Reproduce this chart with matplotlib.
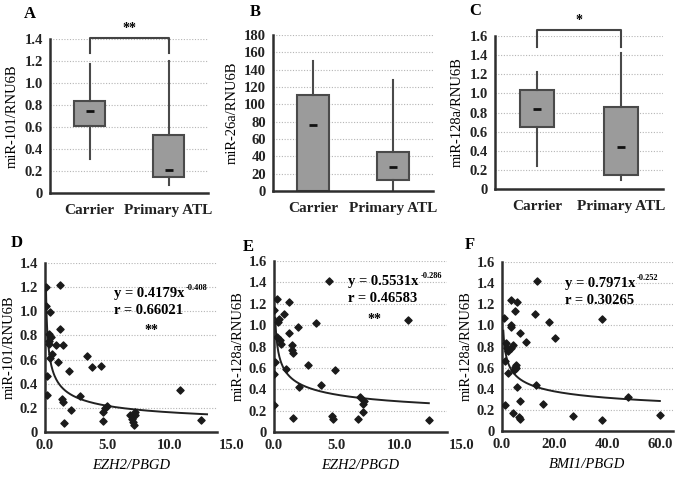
import matplotlib
matplotlib.use("Agg")
import matplotlib.pyplot as plt
import numpy as np

plt.rcParams['font.family'] = ['Liberation Serif', 'DejaVu Serif']
plt.rcParams['font.weight'] = 'bold'

# ---------------- Box plot data (A, B, C) ----------------
groups = ["Carrier", "Primary ATL"]

a_whislo = [0.31, 0.07]
a_q1 = [0.61, 0.15]
a_med = [0.75, 0.21]
a_q3 = [0.84, 0.53]
a_whishi = [1.17, 1.20]

b_whislo = [0, 1]
b_q1 = [0, 12.7]
b_med = [76.5, 27.3]
b_q3 = [110.8, 45.4]
b_whishi = [150.4, 128]

c_whislo = [0.24, 0.09]
c_q1 = [0.65, 0.15]
c_med = [0.84, 0.44]
c_q3 = [1.04, 0.86]
c_whishi = [1.22, 1.42]

a_yticks = [0, 0.2, 0.4, 0.6, 0.8, 1.0, 1.2, 1.4]
a_ylabels = ["0", "0.2", "0.4", "0.6", "0.8", "1.0", "1.2", "1.4"]
b_yticks = [0, 20, 40, 60, 80, 100, 120, 140, 160, 180]
b_ylabels = ["0", "20", "40", "60", "80", "100", "120", "140", "160", "180"]
c_yticks = [0, 0.2, 0.4, 0.6, 0.8, 1.0, 1.2, 1.4, 1.6]
c_ylabels = ["0", "0.2", "0.4", "0.6", "0.8", "1.0", "1.2", "1.4", "1.6"]

# ---------------- Scatter data (D, E, F) ----------------
d_x = [0.05, 1.2, 0.08, 0.4, 1.2, 0.35, 0.45, 0.3, 0.35, 0.88, 1.47, 0.6, 0.4, 1.07,
       3.4, 3.75, 4.5, 1.96, 0.13, 0.13, 1.4, 1.47, 2.8, 2.06, 1.53, 4.64, 4.8, 5.0,
       4.64, 6.8, 6.95, 7.05, 7.16, 7.24, 7.24, 10.8, 12.5]
d_y = [1.2, 1.22, 1.045, 0.99, 0.854, 0.81, 0.79, 0.754, 0.73, 0.72, 0.72, 0.643, 0.615, 0.58,
       0.632, 0.54, 0.549, 0.507, 0.466, 0.31, 0.277, 0.25, 0.30, 0.186, 0.075, 0.166, 0.2, 0.216,
       0.089, 0.139, 0.105, 0.08, 0.061, 0.166, 0.144, 0.352, 0.097]
d_fit = (0.4179, -0.408)
d_fit_range = (0.075, 13.0)

e_x = [4.4, 0.27, 1.2, 0.0, 0.8, 0.4, 0.32, 3.33, 1.92, 1.2, 0.27, 0.48, 0.53, 1.47, 1.41,
       1.52, 0.08, 0.0, 0.93, 2.75, 4.88, 2.0, 3.73, 0.0, 1.52, 4.6, 4.67, 6.67, 6.85, 7.07,
       7.12, 7.15, 10.67, 12.35]
e_y = [1.413, 1.248, 1.216, 1.14, 1.107, 1.06, 1.03, 1.02, 0.98, 0.926, 0.889, 0.858, 0.827,
       0.811, 0.764, 0.739, 0.655, 0.546, 0.593, 0.624, 0.583, 0.421, 0.437, 0.25, 0.134,
       0.147, 0.125, 0.119, 0.327, 0.187, 0.265, 0.29, 1.051, 0.109]
e_fit = (0.5531, -0.286)
e_fit_range = (0.10, 12.35)

f_x = [0.85, 3.3, 5.8, 4.85, 3.4, 3.6, 7.0, 9.3, 12.7, 13.3, 17.9, 20.0, 38.2, 1.45, 1.8,
       2.4, 4.0, 3.4, 1.2, 2.4, 4.85, 5.45, 4.5, 5.2, 5.7, 13.0, 1.1, 4.0, 6.7, 6.3, 6.7,
       15.4, 26.9, 38.2, 47.9, 60.0]
f_y = [1.069, 1.243, 1.217, 1.138, 1.006, 0.98, 0.926, 0.847, 1.107, 1.417, 1.028, 0.879,
       1.059, 0.832, 0.784, 0.753, 0.816, 0.784, 0.658, 0.547, 0.61, 0.626, 0.579, 0.594,
       0.421, 0.436, 0.247, 0.174, 0.285, 0.13, 0.114, 0.253, 0.142, 0.104, 0.326, 0.152]
f_fit = (0.7971, -0.252)
f_fit_range = (0.5, 60.0)

de_xticks = [0, 5, 10]
de_xlabels = ["0.0", "5.0", "10.0"]
f_xticks = [0, 20, 40, 60]
f_xlabels = ["0.0", "20.0", "40.0", "60.0"]
sc_yticks_d = [0, 0.2, 0.4, 0.6, 0.8, 1.0, 1.2, 1.4]
sc_ylabels_d = ["0", "0.2", "0.4", "0.6", "0.8", "1.0", "1.2", "1.4"]
sc_yticks_ef = [0, 0.2, 0.4, 0.6, 0.8, 1.0, 1.2, 1.4, 1.6]
sc_ylabels_ef = ["0", "0.2", "0.4", "0.6", "0.8", "1.0", "1.2", "1.4", "1.6"]

W, H = 675, 479
fig = plt.figure(figsize=(W / 100, H / 100), dpi=100)


def rect(x0, y0, x1, y1):
    return [x0 / W, 1 - y1 / H, (x1 - x0) / W, (y1 - y0) / H]


SP = '#2e2e2e'
FS = 10.5


def style(ax, yticks, ylabels, ylim):
    for s in ['top', 'right']:
        ax.spines[s].set_visible(False)
    for s in ['left', 'bottom']:
        ax.spines[s].set_color(SP)
        ax.spines[s].set_linewidth(1.8)
    ax.set_ylim(*ylim)
    ax.set_yticks(yticks)
    ax.set_yticklabels(ylabels)
    ax.tick_params(length=0, labelsize=FS, colors='#222222', pad=5)
    ax.yaxis.grid(True, color='#b5b5b5', linestyle=(0, (1, 1.5)), linewidth=0.8)
    ax.set_axisbelow(True)


def boxpanel(r, whislo, q1, med, q3, whishi, yticks, ylabels, ylim, ylabel, letter, lpos):
    ax = fig.add_axes(rect(*r))
    stats = []
    for i in range(len(groups)):
        stats.append(dict(whislo=whislo[i], q1=q1[i], med=med[i], q3=q3[i],
                          whishi=whishi[i], fliers=[], label=groups[i]))
    ax.bxp(stats, positions=[1, 2], widths=0.4, showcaps=False, showfliers=False,
           patch_artist=True,
           boxprops=dict(facecolor='#9b9b9b', edgecolor='#4a4a4a', linewidth=1.5),
           whiskerprops=dict(color='#4a4a4a', linewidth=1.5),
           medianprops=dict(linewidth=0))
    ax.scatter([1, 2], med, marker='_', s=40, color='#111111', linewidths=2, zorder=5)
    ax.set_xlim(0.5, 2.5)
    style(ax, yticks, ylabels, ylim)
    ax.set_xticks([1, 2])
    ax.set_xticklabels(groups, fontsize=FS + 0.5)
    ax.tick_params(axis='x', pad=8)
    ax.set_ylabel(ylabel, fontsize=FS, labelpad=4)
    fig.text(lpos[0] / W, 1 - lpos[1] / H, letter, fontsize=12, fontweight='bold',
             ha='center', va='center')
    return ax


axA = boxpanel((50, 39, 208, 193), a_whislo, a_q1, a_med, a_q3, a_whishi,
               a_yticks, a_ylabels, (0, 1.4), "miR-101/RNU6B", "A", (30, 14))
axA.plot([1, 1, 2, 2], [1.27, 1.41, 1.41, 1.27], color='#444444', lw=1.5, clip_on=False)
axA.text(1.5, 1.44, "**", ha='center', va='bottom', fontsize=10)

boxpanel((273, 35, 433, 191), b_whislo, b_q1, b_med, b_q3, b_whishi,
         b_yticks, b_ylabels, (0, 180), "miR-26a/RNU6B", "B", (255, 12))

axC = boxpanel((495, 36, 663, 189), c_whislo, c_q1, c_med, c_q3, c_whishi,
               c_yticks, c_ylabels, (0, 1.6), "miR-128a/RNU6B", "C", (475, 11))
axC.plot([1, 1, 2, 2], [1.49, 1.66, 1.66, 1.49], color='#444444', lw=1.5, clip_on=False)
axC.text(1.5, 1.69, "*", ha='center', va='bottom', fontsize=10)


def scpanel(r, x, y, fit, frange, xlim, xticks, xlabels, yticks, ylabels, ylim,
            ylabel, xlabel, letter, lpos, eq, expo, eqpos, rtxt):
    ax = fig.add_axes(rect(*r))
    ax.scatter(x, y, marker='D', s=13, color='#1a1a1a', zorder=4)
    xx = np.linspace(frange[0], frange[1], 300)
    ax.plot(xx, fit[0] * xx ** fit[1], color='#222222', lw=1.4, zorder=3)
    ax.set_xlim(*xlim)
    style(ax, yticks, ylabels, ylim)
    ax.set_xticks(xticks)
    ax.set_xticklabels(xlabels)
    ax.set_ylabel(ylabel, fontsize=FS, labelpad=3)
    ax.set_xlabel(xlabel, fontsize=FS, fontstyle='italic', labelpad=5)
    t = ax.text(eqpos[0], eqpos[1], eq, transform=ax.transAxes, fontsize=FS,
                ha='left', va='center')
    ax.annotate(expo, xy=(1, 0.95), xycoords=t, xytext=(1, 0), textcoords='offset points',
                fontsize=6, ha='left', va='center')
    ax.text(eqpos[0], eqpos[1] - 0.1, rtxt, transform=ax.transAxes, fontsize=FS,
            ha='left', va='center')
    fig.text(lpos[0] / W, 1 - lpos[1] / H, letter, fontsize=12, fontweight='bold',
             ha='center', va='center')
    return ax


axD = scpanel((45, 263, 217, 432), d_x, d_y, d_fit, d_fit_range, (0, 13.8),
              de_xticks, de_xlabels, sc_yticks_d, sc_ylabels_d, (0, 1.4),
              "miR-101/RNU6B", "EZH2/PBGD", "D", (17, 243),
              "y = 0.4179x", "-0.408", (0.40, 0.82), "r = 0.66021")
axD.annotate("15.0", xy=(15, 0), xycoords=('data', 'axes fraction'), xytext=(0, -5),
             textcoords='offset points', ha='center', va='top', fontsize=FS,
             color='#222222', annotation_clip=False)
axD.text(0.62, 0.60, "**", transform=axD.transAxes, fontsize=10, ha='center', va='center')

axE = scpanel((274, 261, 447, 432), e_x, e_y, e_fit, e_fit_range, (0, 13.8),
              de_xticks, de_xlabels, sc_yticks_ef, sc_ylabels_ef, (0, 1.6),
              "miR-128a/RNU6B", "EZH2/PBGD", "E", (248, 247),
              "y = 0.5531x", "-0.286", (0.43, 0.88), "r = 0.46583")
axE.annotate("15.0", xy=(15, 0), xycoords=('data', 'axes fraction'), xytext=(0, -5),
             textcoords='offset points', ha='center', va='top', fontsize=FS,
             color='#222222', annotation_clip=False)
axE.text(0.58, 0.66, "**", transform=axE.transAxes, fontsize=10, ha='center', va='center')

scpanel((502, 262, 673, 431), f_x, f_y, f_fit, f_fit_range, (0, 65),
        f_xticks, f_xlabels, sc_yticks_ef, sc_ylabels_ef, (0, 1.6),
        "miR-128a/RNU6B", "BMI1/PBGD", "F", (470, 245),
        "y = 0.7971x", "-0.252", (0.37, 0.87), "r = 0.30265")

fig.savefig("out.png", dpi=100, facecolor='white')
